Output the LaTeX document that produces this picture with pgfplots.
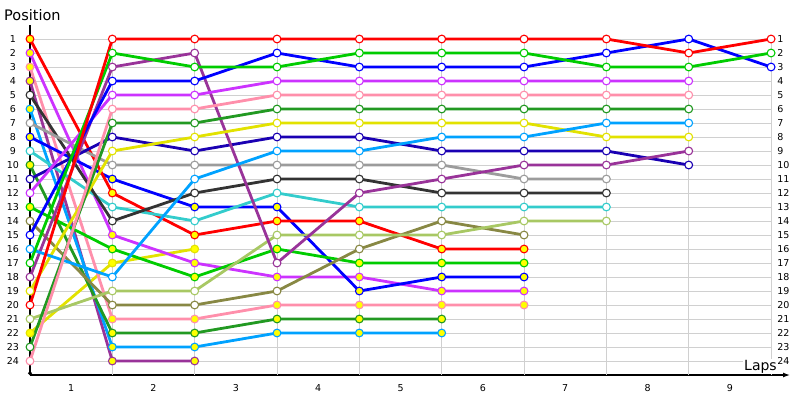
\documentclass[border=0pt]{standalone}
\usepackage{pgfplots}
\pgfplotsset{compat=1.18}
\usepackage{fontspec}
\setmainfont{DejaVu Sans}
\usetikzlibrary{arrows.meta}
\definecolor{cred}{HTML}{FF0000}
\definecolor{cgreen}{HTML}{00CC00}
\definecolor{cblue}{HTML}{0000FF}
\definecolor{cviolet}{HTML}{CC33FF}
\definecolor{cpink}{HTML}{FF8FAB}
\definecolor{cforest}{HTML}{229922}
\definecolor{clblue}{HTML}{00A2FF}
\definecolor{cyellow}{HTML}{E2E200}
\definecolor{cpurple}{HTML}{993399}
\definecolor{cdblue}{HTML}{1A00B3}
\definecolor{cgrey}{HTML}{9C9C9C}
\definecolor{cdgrey}{HTML}{333333}
\definecolor{ccyan}{HTML}{33CCCC}
\definecolor{clgreen}{HTML}{A8C864}
\definecolor{colive}{HTML}{888844}
\definecolor{gridc}{HTML}{D0D0D0}
\definecolor{fillY}{HTML}{FFFF00}
\pgfplotsset{
  drv/.style={line width=2.8bp, mark=*, mark size=3.9bp, mark options={line width=1.1bp, fill=white}},
  drvy/.style={line width=2.8bp, mark=*, mark size=3.9bp, mark options={line width=1.1bp, fill=fillY}},
}
\newcommand{\lblfont}{\fontsize{9.5bp}{10bp}\selectfont}
\begin{document}
\begin{tikzpicture}
\useasboundingbox (-30bp,-25bp) rectangle (770bp,375bp);
\begin{axis}[
  at={(0,0)}, anchor=south west,
  scale only axis, width=760bp, height=350bp,
  xmin=0, xmax=9.23, ymin=0, ymax=25, y dir=reverse,
  axis lines=left, clip=false,
  xtick={0.5,1.5,2.5,3.5,4.5,5.5,6.5,7.5,8.5},
  xticklabels={1,2,3,4,5,6,7,8,9},
  ytick={1,2,...,24},
  major tick length=0pt,
  /pgf/number format/assume math mode=true,
  tick label style={font=\lblfont},
  yticklabel style={anchor=center, xshift=-17bp},
  xticklabel style={anchor=center, yshift=-13bp},
  axis line style={line width=1.3bp, black},
  x axis line style={-{Latex[length=7bp,width=5bp]}},
  y axis line style={-{Circle[length=3.5bp]}},
]
\pgfplotsinvokeforeach{1,...,24}{\draw[gridc, line width=1bp] (axis cs:0,#1) -- (axis cs:9,#1);}
\pgfplotsinvokeforeach{1,...,9}{\draw[gridc, line width=1bp] (axis cs:#1,1) -- (axis cs:#1,25);}
\pgfplotsinvokeforeach{1,...,24}{\node[anchor=west, font=\lblfont, inner sep=0pt] at (axis cs:9,#1) [xshift=6bp] {#1};}

% yellow-filled drivers
\addplot[drvy, cpurple] coordinates {(0,4) (1,24) (2,24)};
\addplot[drvy, cyellow] coordinates {(0,22) (1,17) (2,16)};
\addplot[drvy, clblue] coordinates {(0,6) (1,23) (2,23) (3,22) (4,22) (5,22)};
\addplot[drvy, cforest] coordinates {(0,10) (1,22) (2,22) (3,21) (4,21) (5,21)};
\addplot[drvy, cpink] coordinates {(0,3) (1,21) (2,21) (3,20) (4,20) (5,20) (6,20)};
\addplot[drvy, cviolet] coordinates {(0,2) (1,15) (2,17) (3,18) (4,18) (5,19) (6,19)};
\addplot[drvy, cblue] coordinates {(0,8) (1,11) (2,13) (3,13) (4,19) (5,18) (6,18)};
\addplot[drvy, cgreen] coordinates {(0,13) (1,16) (2,18) (3,16) (4,17) (5,17) (6,17)};
\addplot[drvy, cred] coordinates {(0,1) (1,12) (2,15) (3,14) (4,14) (5,16) (6,16)};
% white-filled drivers
\addplot[drv, colive] coordinates {(0,14) (1,20) (2,20) (3,19) (4,16) (5,14) (6,15)};
\addplot[drv, clgreen] coordinates {(0,21) (1,19) (2,19) (3,15) (4,15) (5,15) (6,14) (7,14)};
\addplot[drv, ccyan] coordinates {(0,9) (1,13) (2,14) (3,12) (4,13) (5,13) (6,13) (7,13)};
\addplot[drv, cdgrey] coordinates {(0,5) (1,14) (2,12) (3,11) (4,11) (5,12) (6,12) (7,12)};
\addplot[drv, cgrey] coordinates {(0,7) (1,10) (2,10) (3,10) (4,10) (5,10) (6,11) (7,11)};
\addplot[drv, cdblue] coordinates {(0,11) (1,8) (2,9) (3,8) (4,8) (5,9) (6,9) (7,9) (8,10)};
\addplot[drv, cpurple] coordinates {(0,18) (1,3) (2,2) (3,17) (4,12) (5,11) (6,10) (7,10) (8,9)};
\addplot[drv, cyellow] coordinates {(0,19) (1,9) (2,8) (3,7) (4,7) (5,7) (6,7) (7,8) (8,8)};
\addplot[drv, clblue] coordinates {(0,16) (1,18) (2,11) (3,9) (4,9) (5,8) (6,8) (7,7) (8,7)};
\addplot[drv, cforest] coordinates {(0,23) (1,7) (2,7) (3,6) (4,6) (5,6) (6,6) (7,6) (8,6)};
\addplot[drv, cpink] coordinates {(0,24) (1,6) (2,6) (3,5) (4,5) (5,5) (6,5) (7,5) (8,5)};
\addplot[drv, cviolet] coordinates {(0,12) (1,5) (2,5) (3,4) (4,4) (5,4) (6,4) (7,4) (8,4)};
\addplot[drv, cblue] coordinates {(0,15) (1,4) (2,4) (3,2) (4,3) (5,3) (6,3) (7,2) (8,1) (9,3)};
\addplot[drv, cgreen] coordinates {(0,17) (1,2) (2,3) (3,3) (4,2) (5,2) (6,2) (7,3) (8,3) (9,2)};
\addplot[drv, cred] coordinates {(0,20) (1,1) (2,1) (3,1) (4,1) (5,1) (6,1) (7,1) (8,2) (9,1)};
\end{axis}
\node[anchor=base west, inner sep=0pt, font=\fontsize{14.5bp}{16bp}\selectfont] at (-26bp,354bp) {Position};
\node[anchor=base west, inner sep=1bp, fill=white, font=\fontsize{14bp}{16bp}\selectfont] at (713bp,5bp) {Laps};
\end{tikzpicture}
\end{document}
